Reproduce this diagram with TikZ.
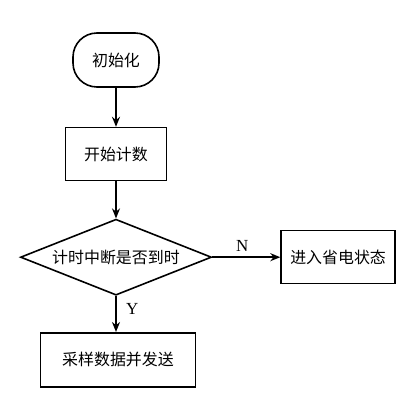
\documentclass[tikz,border=0pt]{standalone}
\usepackage{fontspec}
\setmainfont{Liberation Serif}
\newfontfamily\cjk{Noto Sans CJK SC}
\usetikzlibrary{arrows.meta,positioning,shapes.geometric}
\tikzset{
  termnode/.style={draw,line width=1.6pt,rounded corners=24bp,minimum width=86bp,minimum height=54bp,align=center,font=\cjk\fontsize{16}{19}\selectfont},
  procnode/.style={draw,line width=1.6pt,minimum height=53bp,align=center,font=\cjk\fontsize{16}{19}\selectfont},
  decnode/.style={draw,line width=1.6pt,diamond,aspect=2.5,inner sep=0pt,minimum width=191bp,minimum height=76bp,align=center,font=\cjk\fontsize{16}{19}\selectfont},
  arrow/.style={-{Stealth[length=10bp,width=8bp]},line width=1.6pt},
  lab/.style={font=\fontsize{17}{20}\selectfont}
}
\begin{document}
\begin{tikzpicture}[x=1bp,y=1bp]
  \useasboundingbox (0,0) rectangle (413,402);
  % Flow
  \node[termnode] (init) at (116,342) {初始化};
  \node[procnode,minimum width=101bp,below=39bp of init] (count) {开始计数};
  \node[decnode,below=37bp of count] (judge) {计时中断是否到时};
  \node[procnode,minimum width=114bp,right=68bp of judge] (sleep) {进入省电状态};
  \node[procnode,minimum width=155bp,minimum height=54bp,below=36bp of judge,xshift=2bp] (sample) {采样数据并发送};

  \draw[arrow] (init) -- (count);
  \draw[arrow] (count) -- (judge);
  \draw[arrow] (judge) -- node[lab,above=2bp,xshift=-4bp] (nlab) {N} (sleep);
  \draw[arrow] (judge.south) -- node[lab,right=6bp,pos=0.35] (ylab) {Y} (judge.south |- sample.north);
\end{tikzpicture}
\end{document}
